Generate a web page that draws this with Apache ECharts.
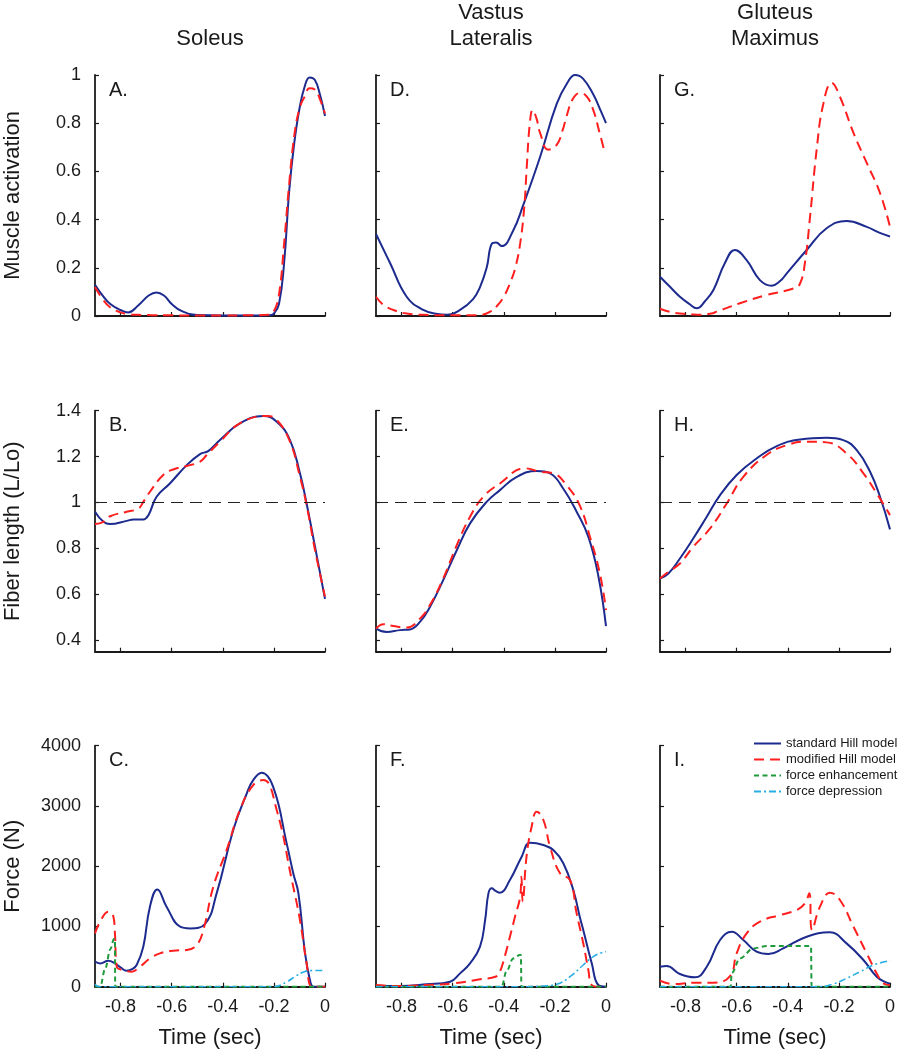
<!DOCTYPE html>
<html>
<head>
<meta charset="utf-8">
<script src="https://cdn.jsdelivr.net/npm/echarts@6/dist/echarts.min.js"></script>
<style>
html,body{margin:0;padding:0;background:#fff;}
#chart{width:898px;height:1050px;}
</style>
</head>
<body>
<div id="chart"></div>
<script>
// ---------------- DATA ----------------
const columnTitles = ['Soleus', 'Vastus\nLateralis', 'Gluteus\nMaximus'];
const rowAxisNames = ['Muscle activation', 'Fiber length (L/Lo)', 'Force (N)'];
const panelLetters = [['A.', 'D.', 'G.'], ['B.', 'E.', 'H.'], ['C.', 'F.', 'I.']];
const seriesNames = ['standard Hill model', 'modified Hill model', 'force enhancement', 'force depression'];
const xTickValues = [-0.8, -0.6, -0.4, -0.2, 0];
const yTicksActivation = [0, 0.2, 0.4, 0.6, 0.8, 1];
const yTicksFiber = [0.4, 0.6, 0.8, 1, 1.2, 1.4];
const yTicksForce = [0, 1000, 2000, 3000, 4000];
const optimalLength = 1;

// A. Soleus activation
const A_std_t = [-0.9,-0.87,-0.84,-0.8,-0.77,-0.73,-0.69,-0.66,-0.63,-0.6,-0.56,-0.5,-0.4,-0.3,-0.22,-0.2,-0.18,-0.16,-0.14,-0.12,-0.1,-0.08,-0.06,-0.04,-0.02,0];
const A_std_v = [0.13,0.085,0.05,0.025,0.015,0.045,0.085,0.098,0.085,0.05,0.02,0.004,0.002,0.002,0.003,0.01,0.05,0.22,0.52,0.72,0.86,0.95,0.99,0.98,0.92,0.83];
const A_mod_t = [-0.9,-0.87,-0.84,-0.8,-0.77,-0.73,-0.69,-0.66,-0.63,-0.6,-0.56,-0.5,-0.4,-0.3,-0.22,-0.2,-0.18,-0.16,-0.14,-0.12,-0.1,-0.08,-0.06,-0.04,-0.02,0];
const A_mod_v = [0.12,0.07,0.035,0.015,0.008,0.005,0.004,0.003,0.003,0.003,0.002,0.002,0.002,0.003,0.005,0.02,0.09,0.3,0.55,0.75,0.86,0.91,0.945,0.94,0.9,0.84];

// D. Vastus lateralis activation
const D_std_t = [-0.9,-0.845,-0.78,-0.715,-0.66,-0.623,-0.571,-0.52,-0.493,-0.467,-0.447,-0.43,-0.408,-0.363,-0.324,-0.258,-0.193,-0.15,-0.121,-0.09,-0.05,-0.02,0];
const D_std_v = [0.34,0.22,0.08,0.025,0.008,0.005,0.025,0.07,0.12,0.2,0.3,0.305,0.29,0.355,0.46,0.66,0.88,0.97,1.0,0.985,0.92,0.85,0.8];
const D_mod_t = [-0.9,-0.87,-0.832,-0.78,-0.715,-0.6,-0.52,-0.48,-0.45,-0.428,-0.4,-0.376,-0.355,-0.336,-0.32,-0.31,-0.298,-0.287,-0.272,-0.258,-0.226,-0.193,-0.17,-0.154,-0.13,-0.102,-0.075,-0.05,-0.025,-0.004];
const D_mod_v = [0.08,0.045,0.025,0.01,0.005,0.003,0.003,0.006,0.02,0.04,0.08,0.135,0.2,0.3,0.45,0.62,0.8,0.855,0.82,0.76,0.69,0.71,0.77,0.83,0.9,0.925,0.91,0.855,0.76,0.675];

// G. Gluteus maximus activation
const G_std_t = [-0.9,-0.86,-0.822,-0.785,-0.756,-0.725,-0.691,-0.646,-0.607,-0.561,-0.509,-0.463,-0.43,-0.404,-0.326,-0.248,-0.17,-0.091,-0.04,0];
const G_std_v = [0.163,0.12,0.08,0.05,0.032,0.06,0.108,0.22,0.274,0.232,0.149,0.126,0.145,0.177,0.274,0.364,0.394,0.37,0.345,0.33];
const G_mod_t = [-0.9,-0.86,-0.822,-0.77,-0.743,-0.7,-0.678,-0.587,-0.483,-0.378,-0.352,-0.333,-0.313,-0.287,-0.261,-0.228,-0.196,-0.143,-0.091,-0.039,0];
const G_mod_v = [0.03,0.017,0.01,0.006,0.005,0.01,0.018,0.053,0.087,0.114,0.135,0.22,0.41,0.69,0.88,0.967,0.91,0.76,0.635,0.51,0.37];

// B. Soleus fiber length
const B_std_t = [-0.9,-0.867,-0.841,-0.776,-0.75,-0.711,-0.691,-0.659,-0.607,-0.541,-0.489,-0.457,-0.411,-0.333,-0.241,-0.189,-0.137,-0.098,-0.072,-0.039,0];
const B_std_v = [0.96,0.916,0.906,0.92,0.926,0.926,0.945,1.025,1.083,1.163,1.211,1.224,1.272,1.345,1.377,1.352,1.272,1.127,0.996,0.807,0.58];
const B_mod_t = [-0.9,-0.867,-0.841,-0.776,-0.73,-0.711,-0.685,-0.633,-0.594,-0.541,-0.489,-0.463,-0.411,-0.333,-0.228,-0.189,-0.137,-0.098,-0.072,-0.039,0];
const B_mod_v = [0.906,0.916,0.94,0.96,0.974,1.003,1.047,1.12,1.144,1.159,1.178,1.207,1.265,1.345,1.377,1.36,1.265,1.112,0.989,0.792,0.59];

// E. Vastus lateralis fiber length
const E_std_t = [-0.9,-0.858,-0.806,-0.767,-0.728,-0.689,-0.637,-0.584,-0.532,-0.467,-0.415,-0.349,-0.271,-0.219,-0.167,-0.115,-0.069,-0.03,0];
const E_std_v = [0.451,0.436,0.444,0.447,0.48,0.545,0.662,0.792,0.909,1.003,1.054,1.112,1.137,1.127,1.06,0.96,0.85,0.68,0.461];
const E_mod_t = [-0.9,-0.871,-0.832,-0.78,-0.728,-0.689,-0.637,-0.584,-0.532,-0.48,-0.415,-0.317,-0.258,-0.206,-0.154,-0.102,-0.063,-0.024,0];
const E_mod_v = [0.451,0.47,0.462,0.455,0.494,0.553,0.669,0.814,0.938,1.025,1.083,1.149,1.134,1.127,1.075,0.985,0.851,0.691,0.531];

// H. Gluteus maximus fiber length
const H_std_t = [-0.9,-0.867,-0.822,-0.77,-0.717,-0.665,-0.6,-0.522,-0.443,-0.352,-0.248,-0.183,-0.13,-0.078,-0.039,0];
const H_std_v = [0.669,0.691,0.756,0.843,0.938,1.032,1.12,1.192,1.246,1.275,1.282,1.272,1.228,1.134,1.025,0.883];
const H_mod_t = [-0.9,-0.867,-0.822,-0.77,-0.704,-0.639,-0.574,-0.483,-0.404,-0.326,-0.248,-0.17,-0.104,-0.052,0];
const H_mod_v = [0.669,0.698,0.734,0.807,0.887,0.996,1.112,1.207,1.25,1.265,1.262,1.214,1.127,1.04,0.945];

// C. Soleus force
const C_std_t = [-0.9,-0.88,-0.848,-0.822,-0.8,-0.776,-0.755,-0.737,-0.711,-0.685,-0.656,-0.62,-0.567,-0.528,-0.47,-0.424,-0.359,-0.306,-0.281,-0.248,-0.202,-0.15,-0.124,-0.104,-0.078,-0.059,-0.046,-0.03,0];
const C_std_v = [415,387,430,387,320,265,290,360,664,1328,1615,1328,996,968,1040,1549,2600,3209,3430,3552,3309,2379,1880,1549,553,110,0,0,0];
const C_mod_t = [-0.9,-0.88,-0.848,-0.828,-0.822,-0.815,-0.789,-0.757,-0.724,-0.685,-0.646,-0.594,-0.541,-0.502,-0.476,-0.437,-0.385,-0.333,-0.281,-0.241,-0.189,-0.13,-0.098,-0.072,-0.052,-0.03,0];
const C_mod_v = [885,1079,1245,1162,885,332,277,249,332,470,553,598,609,692,941,1660,2268,2932,3347,3430,2932,1771,1107,387,0,0,0];
const C_fe_t = [-0.9,-0.88,-0.86,-0.84,-0.826,-0.822,-0.821,0];
const C_fe_v = [0,0,300,620,790,790,0,0];
const C_fd_t = [-0.9,-0.885,-0.2,-0.15,-0.114,-0.081,-0.05,-0.02,0];
const C_fd_v = [40,0,0,80,177,249,268,270,265];

// F. Vastus lateralis force
const F_std_t = [-0.9,-0.806,-0.702,-0.61,-0.571,-0.532,-0.493,-0.473,-0.46,-0.447,-0.432,-0.415,-0.376,-0.33,-0.297,-0.245,-0.206,-0.167,-0.128,-0.102,-0.089,-0.056,-0.03,0];
const F_std_v = [17,11,39,83,221,387,664,1107,1549,1632,1590,1560,1771,2158,2390,2352,2268,2048,1605,1150,941,393,28,0];
const F_mod_t = [-0.9,-0.806,-0.702,-0.597,-0.493,-0.43,-0.415,-0.395,-0.376,-0.355,-0.336,-0.331,-0.326,-0.311,-0.291,-0.271,-0.245,-0.219,-0.18,-0.141,-0.115,-0.089,-0.069,-0.056,-0.03,0];
const F_mod_v = [28,11,28,56,122,170,250,520,830,1180,1494,1826,1411,2158,2656,2905,2767,2324,1882,1771,1218,720,277,28,0,0];
const F_fe_t = [-0.9,-0.408,-0.39,-0.363,-0.337,-0.333,-0.331,0];
const F_fe_v = [0,0,250,470,526,526,0,0];
const F_fd_t = [-0.9,-0.304,-0.25,-0.193,-0.141,-0.089,-0.05,-0.02,0];
const F_fd_v = [0,0,12,40,166,360,498,560,581];

// I. Gluteus maximus force
const I_std_t = [-0.9,-0.874,-0.822,-0.763,-0.717,-0.665,-0.619,-0.574,-0.522,-0.476,-0.418,-0.326,-0.235,-0.17,-0.104,-0.052,-0.013,0];
const I_std_v = [332,343,210,155,332,775,913,775,581,542,636,830,902,719,443,166,66,55];
const I_mod_t = [-0.9,-0.848,-0.77,-0.691,-0.626,-0.6,-0.561,-0.509,-0.43,-0.365,-0.333,-0.316,-0.305,-0.274,-0.235,-0.196,-0.143,-0.091,-0.039,-0.02,0];
const I_mod_v = [100,44,66,66,177,553,885,1079,1190,1273,1383,1549,941,1328,1560,1439,996,553,122,44,28];
const I_fe_t = [-0.9,-0.623,-0.62,-0.587,-0.535,-0.483,-0.352,-0.309,-0.307,0];
const I_fe_v = [0,0,221,470,636,675,675,675,0,0];
const I_fd_t = [-0.9,-0.274,-0.222,-0.17,-0.117,-0.065,0];
const I_fd_v = [0,0,44,138,249,360,432];

// ---------------- LAYOUT / STYLE ----------------
const FONT = "'Liberation Sans', Arial, Helvetica, sans-serif";
const COL_LEFT = [95, 376, 660];
const ROW_TOP = [75, 410.7, 745.7];
const GW = 230, GH = 241;
const AX = '#1a1a1a';
const STYLES = [
  {color: '#1d2b8f', width: 2, type: 'solid', smooth: 0.45, mono: null},
  {color: '#ff1f1f', width: 2, type: [10, 6], smooth: 0.45, mono: null},
  {color: '#1f9a3c', width: 2, type: [5, 3.5], smooth: 0.35, mono: 'x'},
  {color: '#28aee4', width: 1.6, type: [7, 3, 2, 3], smooth: 0.45, mono: null}
];
const rowYAxis = [
  {min: 0, max: 1, ticks: yTicksActivation},
  {min: 0.35, max: 1.4, ticks: yTicksFiber},
  {min: 0, max: 4000, ticks: yTicksForce}
];
const panelData = [
  [[[A_std_t, A_std_v], [A_mod_t, A_mod_v]], [[D_std_t, D_std_v], [D_mod_t, D_mod_v]], [[G_std_t, G_std_v], [G_mod_t, G_mod_v]]],
  [[[B_std_t, B_std_v], [B_mod_t, B_mod_v]], [[E_std_t, E_std_v], [E_mod_t, E_mod_v]], [[H_std_t, H_std_v], [H_mod_t, H_mod_v]]],
  [[[C_std_t, C_std_v], [C_mod_t, C_mod_v], [C_fe_t, C_fe_v], [C_fd_t, C_fd_v]],
   [[F_std_t, F_std_v], [F_mod_t, F_mod_v], [F_fe_t, F_fe_v], [F_fd_t, F_fd_v]],
   [[I_std_t, I_std_v], [I_mod_t, I_mod_v], [I_fe_t, I_fe_v], [I_fd_t, I_fd_v]]]
];
const fmt = v => String(parseFloat(Number(v).toFixed(2)));

const grid = [], xAxis = [], yAxis = [], series = [], graphic = [];
for (let r = 0; r < 3; r++) {
  for (let c = 0; c < 3; c++) {
    const gi = grid.length;
    grid.push({left: COL_LEFT[c], top: ROW_TOP[r], width: GW, height: GH, containLabel: false});
    xAxis.push({
      type: 'value', gridIndex: gi, min: -0.9, max: 0,
      axisLine: {show: true, onZero: false, lineStyle: {color: AX, width: 1.8}},
      axisTick: {show: true, inside: true, length: 4, customValues: xTickValues, lineStyle: {color: AX, width: 1.2}},
      axisLabel: {show: r === 2, customValues: xTickValues, formatter: fmt, fontFamily: FONT, fontSize: 18, color: '#1a1a1a', margin: 11},
      splitLine: {show: false},
      name: (r === 2) ? 'Time (sec)' : '', nameLocation: 'middle', nameGap: 40,
      nameTextStyle: {fontFamily: FONT, fontSize: 22, color: '#1a1a1a'}
    });
    const ya = rowYAxis[r];
    yAxis.push({
      type: 'value', gridIndex: gi, min: ya.min, max: ya.max,
      axisLine: {show: true, onZero: false, lineStyle: {color: AX, width: 1.8}},
      axisTick: {show: true, inside: true, length: 4, customValues: ya.ticks, lineStyle: {color: AX, width: 1.2}},
      axisLabel: {show: c === 0, customValues: ya.ticks, formatter: fmt, fontFamily: FONT, fontSize: 18, color: '#1a1a1a', margin: 14},
      splitLine: {show: false},
      name: (c === 0) ? rowAxisNames[r] : '', nameLocation: 'middle', nameGap: 71,
      nameTextStyle: {fontFamily: FONT, fontSize: 22, color: '#1a1a1a'}
    });
    panelData[r][c].forEach((pair, k) => {
      const st = STYLES[k];
      const s = {
        name: seriesNames[k], type: 'line', xAxisIndex: gi, yAxisIndex: gi,
        data: pair[0].map((t, i) => [t, pair[1][i]]),
        showSymbol: false, symbol: 'none', smooth: st.smooth,
        lineStyle: {color: st.color, width: st.width, type: st.type},
        itemStyle: {color: st.color},
        emphasis: {disabled: true}, silent: true, z: 3 + k
      };
      if (st.mono) s.smoothMonotone = st.mono;
      if (r === 1 && k === 0) {
        s.markLine = {silent: true, symbol: 'none', label: {show: false},
          lineStyle: {color: '#222', type: [12, 7], width: 1},
          data: [{yAxis: optimalLength}]};
      }
      series.push(s);
    });
    graphic.push({type: 'text', x: COL_LEFT[c] + 14, y: ROW_TOP[r] + 15,
      style: {text: panelLetters[r][c], font: '20px ' + FONT, fill: '#1a1a1a', textVerticalAlign: 'middle'}});
  }
}
columnTitles.forEach((t, c) => {
  const lines = t.split('\n');
  graphic.push({type: 'text', x: COL_LEFT[c] + GW / 2, y: lines.length === 2 ? 0 : 26,
    style: {text: t, font: '22px ' + FONT, fill: '#1a1a1a', textAlign: 'center', lineHeight: 26}});
});

const option = {
  animation: false,
  backgroundColor: '#fff',
  grid, xAxis, yAxis, series, graphic,
  legend: {
    data: seriesNames, orient: 'vertical', left: 753, top: 737,
    itemWidth: 27, itemHeight: 10, itemGap: 3, padding: 0,
    itemStyle: {opacity: 0, borderWidth: 0},
    textStyle: {fontFamily: FONT, fontSize: 13, color: '#1a1a1a'},
    selectedMode: false
  }
};
const chart = echarts.init(document.getElementById('chart'), null, {renderer: 'canvas'});
chart.setOption(option);
</script>
</body>
</html>
